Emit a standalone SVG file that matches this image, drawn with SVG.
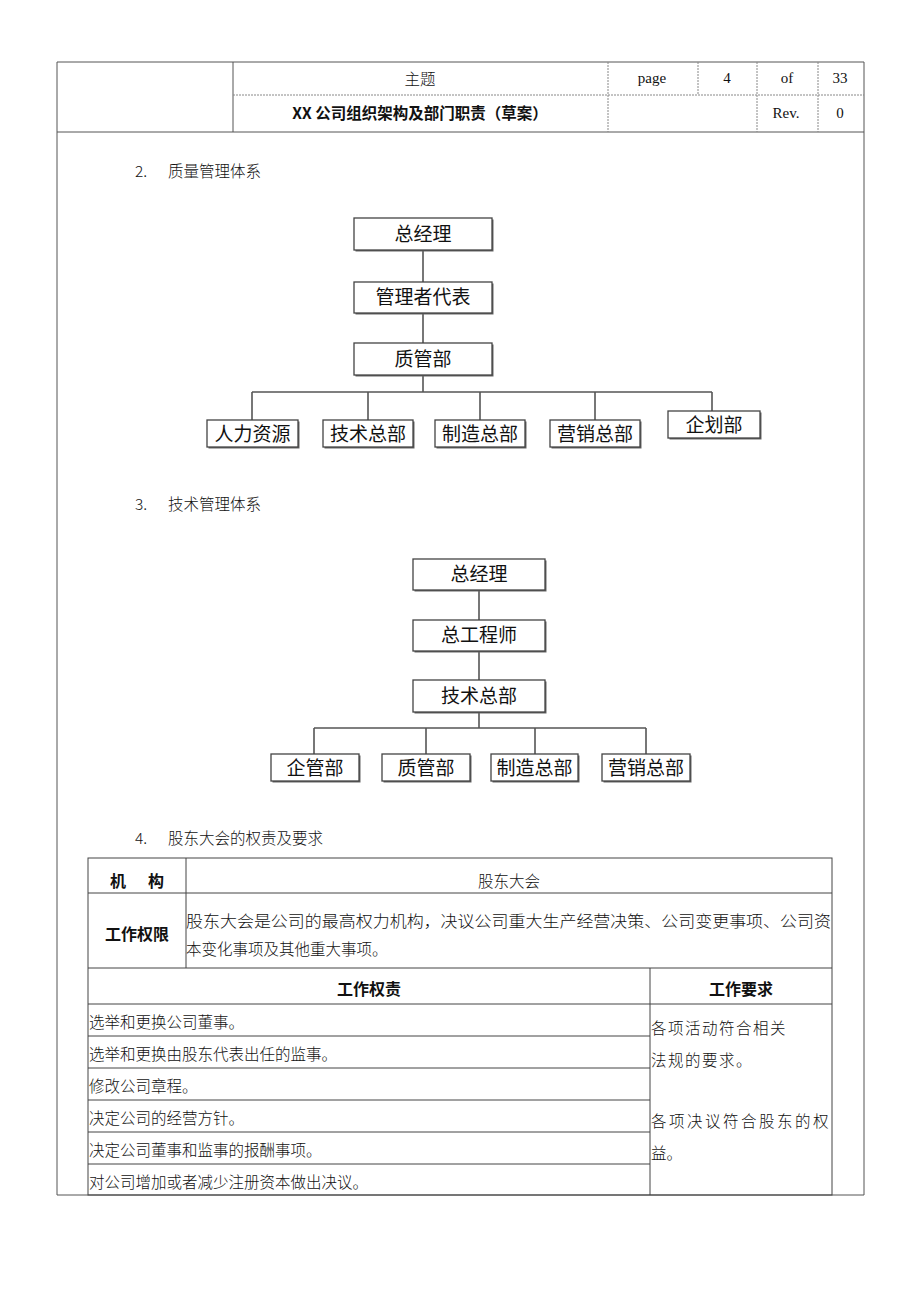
<svg xmlns="http://www.w3.org/2000/svg" width="920" height="1302" viewBox="0 0 920 1302">
<style>
.pg{stroke:#555;stroke-width:1;fill:none}
.dv{stroke:#888;stroke-width:1;stroke-dasharray:2 1;fill:none}
.tb{stroke:#444;stroke-width:1;fill:none}
.cn{stroke:#555;stroke-width:1.6;fill:none}
.bx{fill:#fff;stroke:#444;stroke-width:1.3}
.sh{fill:#666}
.t{font-family:"Noto Sans CJK SC",sans-serif;fill:#111}
.s{font-family:"Liberation Serif","Noto Sans CJK SC",serif;fill:#111}
.n{font-family:"Noto Sans CJK SC",sans-serif;font-size:19px;fill:#111;text-anchor:middle;dominant-baseline:central}
.c{font-family:"Noto Sans CJK SC",sans-serif;font-size:15.5px;font-weight:300;fill:#111;dominant-baseline:central}
.b{font-family:"Noto Sans CJK SC",sans-serif;font-size:16px;font-weight:700;fill:#111;dominant-baseline:central;text-anchor:middle}
</style>
<rect width="920" height="1302" fill="#fff"/>
<g id="header">
<line class="pg" x1="57" y1="62" x2="864" y2="62"/>
<line class="pg" x1="57" y1="132" x2="864" y2="132"/>
<line class="pg" x1="57" y1="62" x2="57" y2="1195"/>
<line class="pg" x1="864" y1="62" x2="864" y2="1195"/>
<line class="pg" x1="57" y1="1195" x2="864" y2="1195"/>
<line class="pg" x1="233" y1="62" x2="233" y2="132"/>
<line class="dv" x1="233" y1="95" x2="864" y2="95"/>
<line class="dv" x1="608" y1="62" x2="608" y2="132"/>
<line class="dv" x1="698" y1="62" x2="698" y2="95"/>
<line class="dv" x1="757" y1="62" x2="757" y2="132"/>
<line class="dv" x1="818" y1="62" x2="818" y2="132"/>
<text class="c" x="420" y="78" text-anchor="middle">主题</text>
<text class="s" x="652" y="83" font-size="15" text-anchor="middle">page</text>
<text class="s" x="727" y="83" font-size="15" text-anchor="middle">4</text>
<text class="s" x="787" y="83" font-size="15" text-anchor="middle">of</text>
<text class="s" x="840" y="83" font-size="15" text-anchor="middle">33</text>
<text class="t" x="420" y="119" font-size="15.5" font-weight="700" text-anchor="middle">XX 公司组织架构及部门职责（草案）</text>
<text class="s" x="786" y="118" font-size="15" text-anchor="middle">Rev.</text>
<text class="s" x="840" y="118" font-size="15" text-anchor="middle">0</text>
</g>
<g id="headings">
<text class="c" x="135" y="170">2.</text>
<text class="c" x="168" y="170">质量管理体系</text>
<text class="c" x="135" y="503">3.</text>
<text class="c" x="168" y="503">技术管理体系</text>
<text class="c" x="135" y="837">4.</text>
<text class="c" x="168" y="837">股东大会的权责及要求</text>
</g>
<g id="connectors">
<line class="cn" x1="423" y1="250" x2="423" y2="282"/>
<line class="cn" x1="423" y1="313" x2="423" y2="343"/>
<line class="cn" x1="423" y1="375" x2="423" y2="392"/>
<line class="cn" x1="252" y1="392" x2="712" y2="392"/>
<line class="cn" x1="252" y1="392" x2="252" y2="420"/>
<line class="cn" x1="368" y1="392" x2="368" y2="420"/>
<line class="cn" x1="480" y1="392" x2="480" y2="420"/>
<line class="cn" x1="595" y1="392" x2="595" y2="420"/>
<line class="cn" x1="712" y1="392" x2="712" y2="411"/>
<line class="cn" x1="479" y1="590" x2="479" y2="620"/>
<line class="cn" x1="479" y1="651" x2="479" y2="680"/>
<line class="cn" x1="479" y1="712" x2="479" y2="728"/>
<line class="cn" x1="314" y1="728" x2="646" y2="728"/>
<line class="cn" x1="314" y1="728" x2="314" y2="754"/>
<line class="cn" x1="426" y1="728" x2="426" y2="754"/>
<line class="cn" x1="535" y1="728" x2="535" y2="754"/>
<line class="cn" x1="646" y1="728" x2="646" y2="754"/>
</g>
<g id="q-gm"><rect class="sh" x="355.5" y="219.5" width="138" height="32"/><rect class="bx" x="354" y="218" width="138" height="32"/><text class="n" x="423" y="232">总经理</text></g>
<g id="q-rep"><rect class="sh" x="355.5" y="283.5" width="138" height="31"/><rect class="bx" x="354" y="282" width="138" height="31"/><text class="n" x="423" y="295.5">管理者代表</text></g>
<g id="q-qa"><rect class="sh" x="355.5" y="344.5" width="138" height="32"/><rect class="bx" x="354" y="343" width="138" height="32"/><text class="n" x="423" y="357">质管部</text></g>
<g id="q-hr"><rect class="sh" x="208.5" y="421.5" width="91" height="27"/><rect class="bx" x="207" y="420" width="91" height="27"/><text class="n" x="252.5" y="432">人力资源</text></g>
<g id="q-tech"><rect class="sh" x="324.5" y="421.5" width="90" height="27"/><rect class="bx" x="323" y="420" width="90" height="27"/><text class="n" x="368" y="432">技术总部</text></g>
<g id="q-mfg"><rect class="sh" x="436.5" y="421.5" width="90" height="27"/><rect class="bx" x="435" y="420" width="90" height="27"/><text class="n" x="480" y="432">制造总部</text></g>
<g id="q-sales"><rect class="sh" x="551.5" y="421.5" width="90" height="27"/><rect class="bx" x="550" y="420" width="90" height="27"/><text class="n" x="595" y="432">营销总部</text></g>
<g id="q-plan"><rect class="sh" x="669.5" y="412.5" width="92" height="27"/><rect class="bx" x="668" y="411" width="92" height="27"/><text class="n" x="714" y="423">企划部</text></g>
<g id="t-gm"><rect class="sh" x="414.5" y="560.5" width="132" height="31"/><rect class="bx" x="413" y="559" width="132" height="31"/><text class="n" x="479" y="572.5">总经理</text></g>
<g id="t-ce"><rect class="sh" x="414.5" y="621.5" width="132" height="31"/><rect class="bx" x="413" y="620" width="132" height="31"/><text class="n" x="479" y="633.5">总工程师</text></g>
<g id="t-tech"><rect class="sh" x="414.5" y="681.5" width="132" height="32"/><rect class="bx" x="413" y="680" width="132" height="32"/><text class="n" x="479" y="694">技术总部</text></g>
<g id="t-ent"><rect class="sh" x="272.5" y="755.5" width="88" height="27"/><rect class="bx" x="271" y="754" width="88" height="27"/><text class="n" x="315" y="766">企管部</text></g>
<g id="t-qa"><rect class="sh" x="383.5" y="755.5" width="88" height="27"/><rect class="bx" x="382" y="754" width="88" height="27"/><text class="n" x="426" y="766">质管部</text></g>
<g id="t-mfg"><rect class="sh" x="492.5" y="755.5" width="87" height="27"/><rect class="bx" x="491" y="754" width="87" height="27"/><text class="n" x="534.5" y="766">制造总部</text></g>
<g id="t-sales"><rect class="sh" x="603.5" y="755.5" width="88" height="27"/><rect class="bx" x="602" y="754" width="88" height="27"/><text class="n" x="646" y="766">营销总部</text></g>
<g id="table">
<rect class="tb" x="88" y="858" width="744" height="337"/>
<line class="tb" x1="186" y1="858" x2="186" y2="968"/>
<line class="tb" x1="88" y1="893" x2="832" y2="893"/>
<line class="tb" x1="88" y1="968" x2="832" y2="968"/>
<line class="tb" x1="650" y1="968" x2="650" y2="1195"/>
<line class="tb" x1="88" y1="1004" x2="832" y2="1004"/>
<line class="tb" x1="88" y1="1036" x2="650" y2="1036"/>
<line class="tb" x1="88" y1="1068" x2="650" y2="1068"/>
<line class="tb" x1="88" y1="1100" x2="650" y2="1100"/>
<line class="tb" x1="88" y1="1132" x2="650" y2="1132"/>
<line class="tb" x1="88" y1="1164" x2="650" y2="1164"/>
<text class="b" x="137" y="880" xml:space="preserve">机      构</text>
<text class="c" x="509" y="880" text-anchor="middle">股东大会</text>
<text class="b" x="137" y="933">工作权限</text>
<text class="c" x="186" y="920" textLength="645" lengthAdjust="spacingAndGlyphs">股东大会是公司的最高权力机构，决议公司重大生产经营决策、公司变更事项、公司资</text>
<text class="c" x="186" y="948">本变化事项及其他重大事项。</text>
<text class="b" x="369" y="988">工作权责</text>
<text class="b" x="741" y="988">工作要求</text>
<text class="c" x="89" y="1021">选举和更换公司董事。</text>
<text class="c" x="89" y="1053">选举和更换由股东代表出任的监事。</text>
<text class="c" x="89" y="1085">修改公司章程。</text>
<text class="c" x="89" y="1117">决定公司的经营方针。</text>
<text class="c" x="89" y="1149">决定公司董事和监事的报酬事项。</text>
<text class="c" x="89" y="1181">对公司增加或者减少注册资本做出决议。</text>
<text class="c" x="651" y="1027" letter-spacing="1.5">各项活动符合相关</text>
<text class="c" x="651" y="1059" letter-spacing="1.5">法规的要求。</text>
<text class="c" x="651" y="1120" letter-spacing="2.5">各项决议符合股东的权</text>
<text class="c" x="651" y="1152">益。</text>
</g>
</svg>
